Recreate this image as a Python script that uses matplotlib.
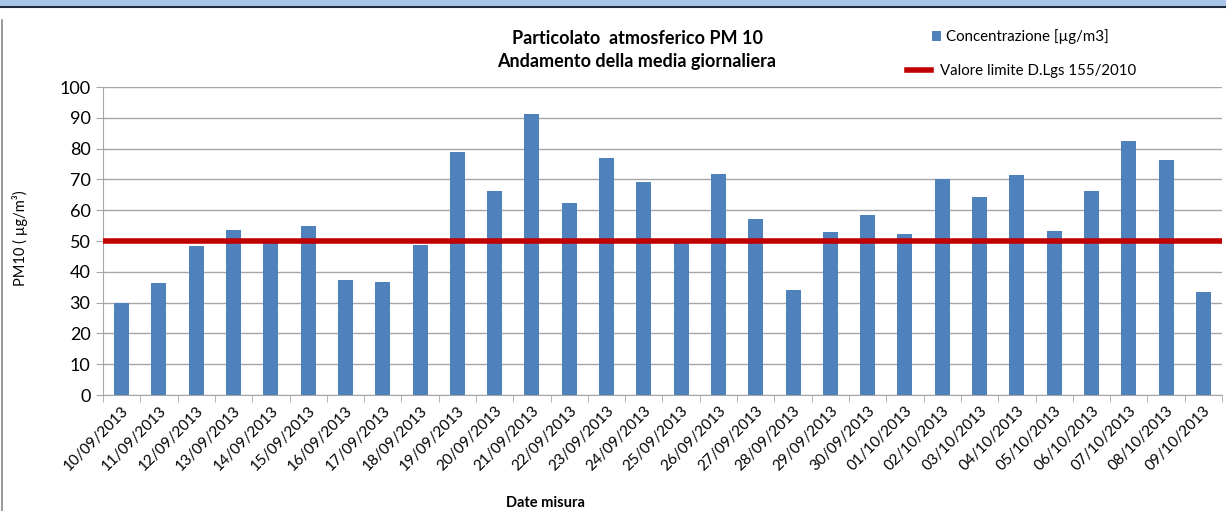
import matplotlib.pyplot as plt
from matplotlib.patches import Rectangle
from matplotlib.lines import Line2D

# dati
date = ["10/09/2013", "11/09/2013", "12/09/2013", "13/09/2013", "14/09/2013",
        "15/09/2013", "16/09/2013", "17/09/2013", "18/09/2013", "19/09/2013",
        "20/09/2013", "21/09/2013", "22/09/2013", "23/09/2013", "24/09/2013",
        "25/09/2013", "26/09/2013", "27/09/2013", "28/09/2013", "29/09/2013",
        "30/09/2013", "01/10/2013", "02/10/2013", "03/10/2013", "04/10/2013",
        "05/10/2013", "06/10/2013", "07/10/2013", "08/10/2013", "09/10/2013"]
concentrazione = [30.0, 36.4, 48.3, 53.7, 49.3, 55.0, 37.3, 36.7, 48.7, 78.9,
                  66.1, 91.3, 62.2, 77.1, 69.2, 49.4, 71.8, 57.3, 34.0, 52.8,
                  58.3, 52.2, 70.2, 64.3, 71.5, 53.3, 66.1, 82.5, 76.3, 33.4]
limite = 50

plt.rcParams['font.family'] = ['Lato', 'DejaVu Sans']

fig = plt.figure(figsize=(12.26, 5.11), dpi=100)
ax = fig.add_axes([103 / 1226, 1 - 395 / 511, (1222 - 103) / 1226, (395 - 87) / 511])

# cornice in alto e a sinistra
fig.patches.append(Rectangle((0, 1 - 6 / 511), 1, 6 / 511, transform=fig.transFigure,
                             facecolor='#a9c6ea', edgecolor='none'))
fig.lines.append(Line2D([0, 1], [1 - 7 / 511] * 2, transform=fig.transFigure,
                        color='#1f2a3a', lw=1.5))
fig.lines.append(Line2D([2 / 1226] * 2, [0, 1 - 20 / 511], transform=fig.transFigure,
                        color='#888888', lw=1.2))

x = range(len(date))
barre = ax.bar(x, concentrazione, width=0.4, color='#4f81bd', zorder=3)
linea = ax.axhline(limite, color='#c00000', lw=4, zorder=4)

ax.set_xlim(-0.5, len(date) - 0.5)
ax.set_ylim(0, 100)
ax.set_yticks(range(0, 101, 10))
ax.grid(axis='y', color='#a6a6a6', lw=1, zorder=0)

ax.set_xticks(x)
ax.set_xticklabels(date, rotation=45, ha='right', rotation_mode='anchor', fontsize=11)
ax.set_xticks([i + 0.5 for i in range(-1, len(date))], minor=True)
ax.tick_params(axis='x', which='major', length=0, pad=6)
ax.tick_params(axis='x', which='minor', length=5, color='#a6a6a6', direction='out')
ax.tick_params(axis='y', labelsize=13, length=5, color='#a6a6a6', pad=4)

for s in ['top', 'right']:
    ax.spines[s].set_visible(False)
ax.spines['left'].set_color('#a6a6a6')
ax.spines['bottom'].set_color('#a6a6a6')

fig.text(20 / 1226, 1 - 238 / 511, 'PM10 ( µg/m³)', rotation=90, fontsize=10.5,
         ha='center', va='center')
fig.text(545 / 1226, 1 - 503 / 511, 'Date misura', fontsize=10.5, fontweight='bold',
         ha='center', va='center')
fig.text(637 / 1226, 1 - 38 / 511, 'Particolato  atmosferico PM 10', fontsize=13,
         fontweight='bold', ha='center', va='center')
fig.text(637 / 1226, 1 - 61 / 511, 'Andamento della media giornaliera', fontsize=13,
         fontweight='bold', ha='center', va='center')

fig.legend([barre], ['Concentrazione [µg/m3]'], loc='center left',
           bbox_to_anchor=(932 / 1226, 1 - 37 / 511), frameon=False,
           fontsize=10.8, handlelength=0.6, handleheight=0.6, handletextpad=0.3,
           borderaxespad=0, borderpad=0)
fig.legend([linea], ['Valore limite D.Lgs 155/2010'], loc='center left',
           bbox_to_anchor=(907 / 1226, 1 - 71 / 511), frameon=False,
           fontsize=10.8, handlelength=1.6, handletextpad=0.6,
           borderaxespad=0, borderpad=0)

fig.savefig('out.png', dpi=100)
